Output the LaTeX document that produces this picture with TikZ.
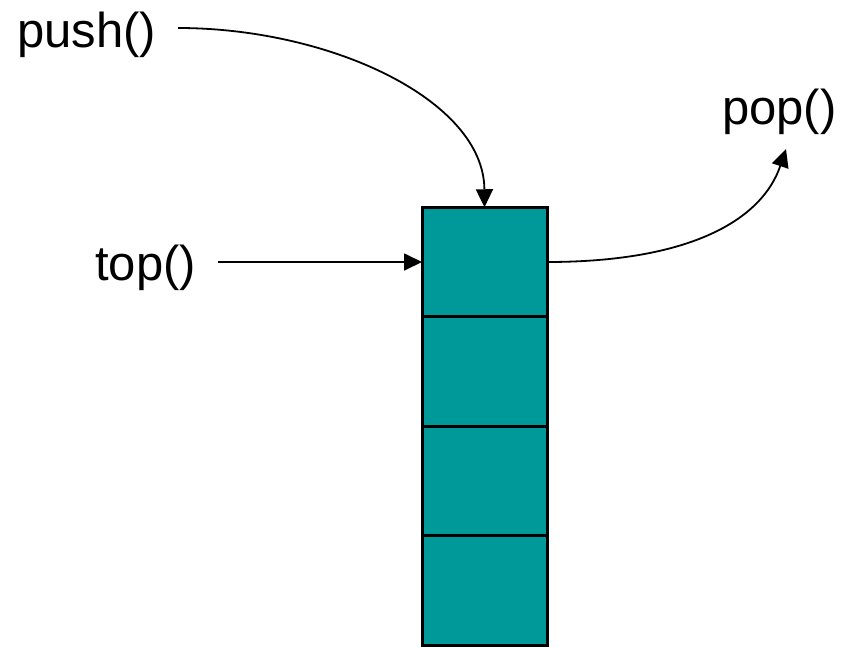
\documentclass[tikz,border=0pt]{standalone}
\usepackage{fontspec}
\setmainfont{Liberation Sans}
\usetikzlibrary{arrows.meta}
\definecolor{stackteal}{HTML}{009999}
\begin{document}
\begin{tikzpicture}[x=1pt,y=-1pt,
  label/.style={inner sep=0pt,anchor=base west,font=\fontsize{49}{54}\selectfont},
  cell/.style={draw=black,line width=3pt,fill=stackteal,minimum width=125pt,minimum height=109.5pt,inner sep=0pt,outer sep=0pt},
  link/.style={line width=1.8pt,-{Triangle[length=18pt,width=17pt]}}]
\useasboundingbox (0,0) rectangle (846,646);
% stack of four cells
\node[cell] (c1) at (484.5,262) {};
\node[cell] (c2) at (484.5,371.5) {};
\node[cell] (c3) at (484.5,481) {};
\node[cell] (c4) at (484.5,590.5) {};
% operation labels
\node[label] (push) at (17,47) {push()};
\node[label] (top) at (95,280) {top()};
\node[label] (pop) at (722,124) {pop()};
% free ends of the connectors
\coordinate (ps) at (178,28);
\coordinate (ts) at (218,262);
\coordinate (pe) at (786,149);
% connectors
\draw[link] (ps) .. controls (330,28) and (484,100) .. (c1.north);
\draw[link] (ts) -- (c1.west);
\draw[link] (c1.east) .. controls (690,262) and (762,220) .. (pe);
\end{tikzpicture}
\end{document}
